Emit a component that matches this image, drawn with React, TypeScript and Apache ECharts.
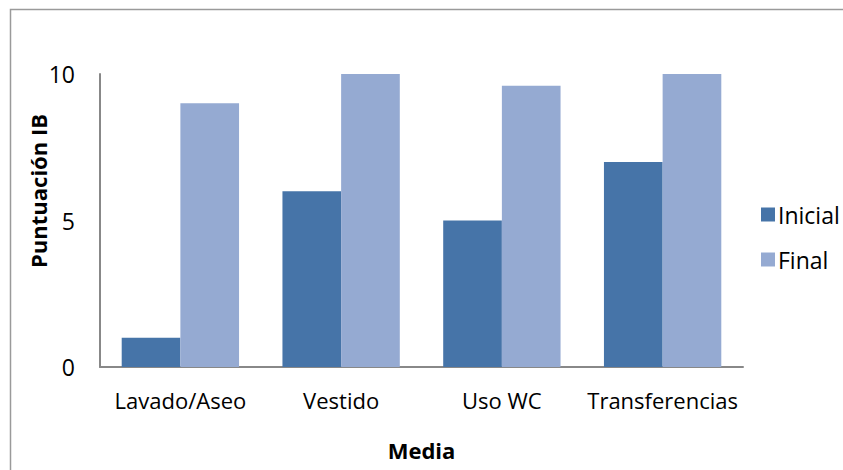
import React, { useEffect, useRef } from "react";
import * as echarts from "echarts";

const categories = ["Lavado/Aseo", "Vestido", "Uso WC", "Transferencias"];
const inicial = [1, 6, 5, 7];
const final = [9, 10, 9.6, 10];
const seriesNames = ["Inicial", "Final"];

const FONT = "'Open Sans', 'Noto Sans', sans-serif";

export default function App() {
  const ref = useRef<HTMLDivElement>(null);

  useEffect(() => {
    document.body.style.margin = "0";
    const chart = echarts.init(ref.current!, null, { renderer: "svg" });
    chart.setOption({
      animation: false,
      backgroundColor: "#ffffff",
      textStyle: { fontFamily: FONT },
      grid: { left: 100, right: 100, top: 74, bottom: 103 },
      legend: {
        orient: "vertical",
        left: 756,
        top: 198,
        itemWidth: 14,
        itemHeight: 14,
        itemGap: 22,
        icon: "rect",
        textStyle: { fontFamily: FONT, fontSize: 23, color: "#000", padding: [0, 0, 0, -2] },
        data: seriesNames,
      },
      xAxis: {
        type: "category",
        data: categories,
        axisLine: { show: true, lineStyle: { color: "#888888", width: 2 } },
        axisTick: { show: false },
        axisLabel: { color: "#000", fontSize: 22, fontFamily: FONT, margin: 22, interval: 0 },
        name: "Media",
        nameLocation: "middle",
        nameGap: 72,
        nameTextStyle: { color: "#000", fontSize: 22, fontWeight: "bold", fontFamily: FONT },
      },
      yAxis: {
        type: "value",
        min: 0,
        max: 10,
        interval: 5,
        axisLine: { show: true, lineStyle: { color: "#888888", width: 2 } },
        axisTick: { show: false },
        splitLine: { show: false },
        axisLabel: { color: "#000", fontSize: 23, fontFamily: FONT, margin: 25 },
      },
      graphic: [
        {
          type: "rect",
          shape: { x: 10.5, y: 9.5, width: 900, height: 600 },
          style: { fill: "none", stroke: "#9a9a9a", lineWidth: 1.5 },
          silent: true,
        },
        {
          type: "text",
          x: 38,
          y: 191,
          rotation: Math.PI / 2,
          style: {
            text: "Puntuación IB",
            fill: "#000",
            font: `bold 22px ${FONT}`,
            align: "center",
            verticalAlign: "middle",
          },
        },
      ],
      series: [
        {
          name: seriesNames[0],
          type: "bar",
          data: inicial,
          itemStyle: { color: "#4674A8" },
          barGap: "0%",
          barCategoryGap: "27%",
        },
        {
          name: seriesNames[1],
          type: "bar",
          data: final,
          itemStyle: { color: "#95AAD2" },
          barGap: "0%",
          barCategoryGap: "27%",
        },
      ],
    });
    return () => chart.dispose();
  }, []);

  return <div ref={ref} style={{ width: 843, height: 470 }} />;
}
